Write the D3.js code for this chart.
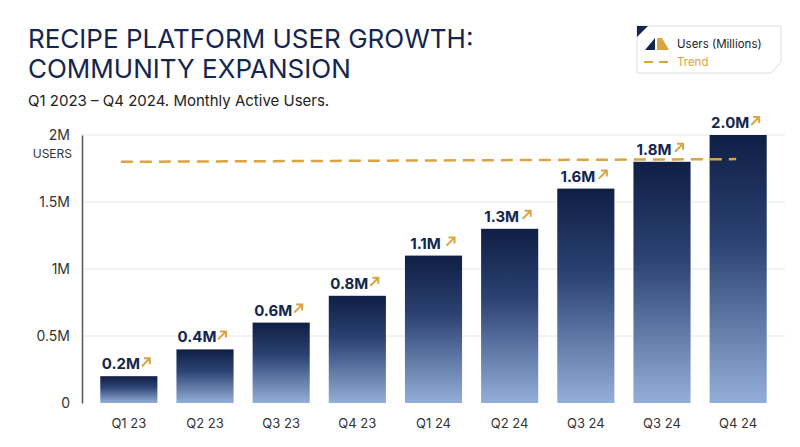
<!DOCTYPE html>
<html>
<head>
<meta charset="UTF-8">
<style>
  body { margin: 0; background: #fff; font-family: 'Inter', 'Noto Sans', sans-serif; }
</style>
</head>
<body>
<div id="chart"></div>
<script src="https://d3js.org/d3.v7.min.js"></script>
<script>
const categories = ['Q1 23', 'Q2 23', 'Q3 23', 'Q4 23', 'Q1 24', 'Q2 24', 'Q3 24', 'Q3 24 ', 'Q4 24'];
const users = [0.2, 0.4, 0.6, 0.8, 1.1, 1.3, 1.6, 1.8, 2.0];
const barLabels = ['0.2M', '0.4M', '0.6M', '0.8M', '1.1M', '1.3M', '1.6M', '1.8M', '2.0M'];
const trendStart = 1.8, trendEnd = 1.82;
const yTicks = [0, 0.5, 1, 1.5, 2];
const yTickLabels = ['0', '0.5M', '1M', '1.5M', '2M'];

const W = 800, H = 447;
const m = { left: 82, right: 15, top: 135, bottom: 44 };
const navy = '#14264f', gold = '#d9a441';

const svg = d3.select('#chart').append('svg').attr('width', W).attr('height', H);

const x = d3.scaleBand().domain(categories).range([m.left, W - m.right]).paddingInner(0.25).paddingOuter(0.24);
const y = d3.scaleLinear().domain([0, 2]).range([H - m.bottom, m.top]);

const grad = svg.append('defs').append('linearGradient').attr('id', 'g')
  .attr('x1', 0).attr('x2', 0).attr('y1', 0).attr('y2', 1);
grad.append('stop').attr('offset', 0).attr('stop-color', '#0f1f45');
grad.append('stop').attr('offset', 0.4).attr('stop-color', '#2c4272');
grad.append('stop').attr('offset', 1).attr('stop-color', '#93afd8');

// title
svg.append('text').attr('x', 28).attr('y', 48).attr('font-size', 26).attr('fill', navy).text('RECIPE PLATFORM USER GROWTH:');
svg.append('text').attr('x', 28).attr('y', 78).attr('font-size', 26).attr('fill', navy).text('COMMUNITY EXPANSION');
svg.append('text').attr('x', 28).attr('y', 106).attr('font-size', 15).attr('fill', '#222').text('Q1 2023 – Q4 2024. Monthly Active Users.');

// grid
svg.append('g').selectAll('line').data(yTicks.slice(1)).join('line')
  .attr('x1', m.left).attr('x2', W - m.right).attr('y1', d => y(d)).attr('y2', d => y(d))
  .attr('stroke', '#e6e6e6');

// y axis
const ya = svg.append('g').attr('transform', `translate(${m.left},0)`)
  .call(d3.axisLeft(y).tickValues(yTicks).tickFormat((d, i) => yTickLabels[i]).tickSize(0).tickPadding(12));
ya.select('.domain').attr('stroke', '#555').attr('stroke-width', 1.5);
ya.selectAll('text').attr('font-size', 14).attr('fill', '#333').attr('font-family', 'Inter, sans-serif');
svg.append('text').attr('x', m.left - 10).attr('y', y(2) + 23).attr('text-anchor', 'end')
  .attr('font-size', 12).attr('fill', '#333').text('USERS');

// x axis
const xa = svg.append('g').attr('transform', `translate(0,${y(0)})`)
  .call(d3.axisBottom(x).tickSize(0).tickPadding(16));
xa.select('.domain').remove();
xa.selectAll('text').attr('font-size', 13).attr('fill', '#333').attr('font-family', 'Inter, sans-serif')
  .text(d => d.trim());

// bars
svg.append('g').selectAll('rect').data(users).join('rect')
  .attr('x', (d, i) => x(categories[i])).attr('width', x.bandwidth())
  .attr('y', d => y(d)).attr('height', d => y(0) - y(d)).attr('fill', 'url(#g)');

// labels with arrows
const lab = svg.append('g').selectAll('g').data(users).join('g')
  .attr('transform', (d, i) => `translate(${x(categories[i]) + x.bandwidth() / 2 - 8},${y(d) - 7})`);
lab.append('text').attr('text-anchor', 'middle').attr('font-size', 15).attr('font-weight', 700)
  .attr('fill', navy).text((d, i) => barLabels[i]);
lab.append('path').attr('d', 'M21,-3 L29,-11 M23,-11 L29,-11 L29,-5')
  .attr('stroke', gold).attr('stroke-width', 2).attr('fill', 'none');

// trend
svg.append('line')
  .attr('x1', x(categories[0]) + x.bandwidth() / 2 - 8).attr('x2', x(categories[8]) + x.bandwidth() / 2 - 2)
  .attr('y1', y(trendStart)).attr('y2', y(trendEnd))
  .attr('stroke', gold).attr('stroke-width', 2.5).attr('stroke-dasharray', '12,7');

// legend
const lg = svg.append('g').attr('transform', 'translate(637,26)');
lg.append('path').attr('d', 'M0,0 H144 V36 L134,47 H0 Z').attr('fill', '#fff').attr('stroke', '#ddd');
lg.append('path').attr('d', 'M0,0 H11 L0,11 Z').attr('fill', navy);
lg.append('path').attr('d', 'M8,24 L18,12 V24 Z').attr('fill', navy);
lg.append('path').attr('d', 'M20,12 L25,12 L32,24 H20 Z').attr('fill', gold);
lg.append('text').attr('x', 40).attr('y', 22).attr('font-size', 11.5).attr('fill', '#222').text('Users (Millions)');
lg.append('line').attr('x1', 7).attr('x2', 33).attr('y1', 36).attr('y2', 36)
  .attr('stroke', gold).attr('stroke-width', 2).attr('stroke-dasharray', '9,6');
lg.append('text').attr('x', 40).attr('y', 40).attr('font-size', 11.5).attr('fill', gold).text('Trend');
</script>
</body>
</html>
